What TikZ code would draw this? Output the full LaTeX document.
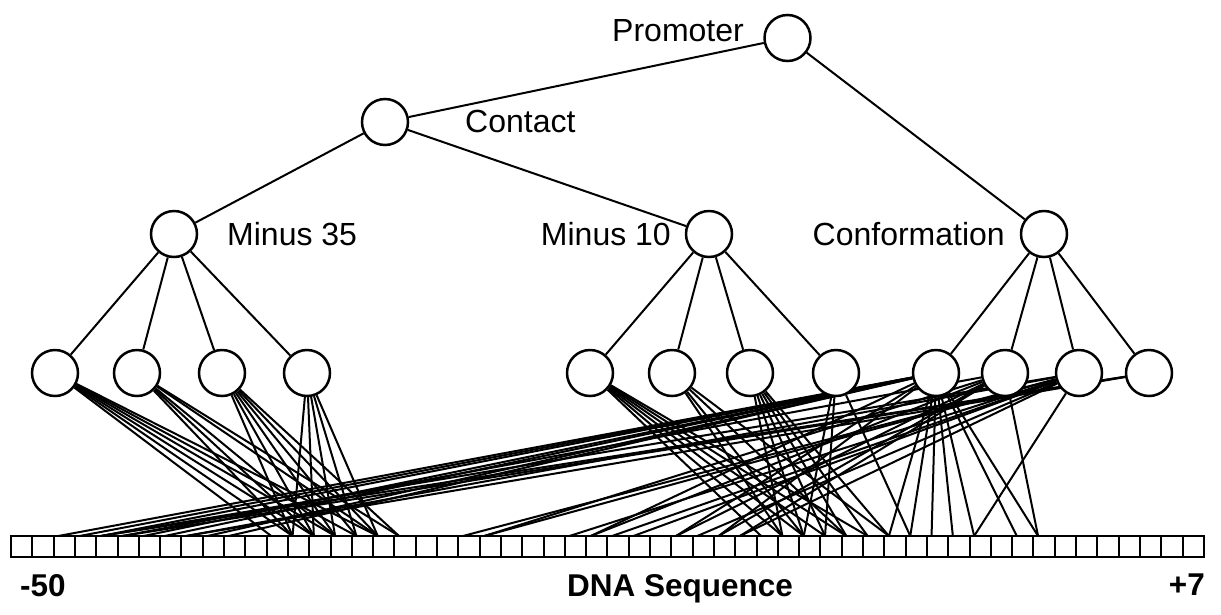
\documentclass[tikz,border=0pt]{standalone}
\usepackage{fontspec}
\setmainfont{Liberation Sans}
\pgfdeclarelayer{back}
\pgfsetlayers{back,main}

\begin{document}
\begin{tikzpicture}[x=1pt,y=-1pt,
        unit/.style={circle,draw,fill=white,line width=2.5pt,
            minimum size=46pt,inner sep=0pt},
        base/.style={draw,line width=2pt,minimum width=21.3pt,
            minimum height=20.5pt,inner sep=0pt,outer sep=0pt},
        wire/.style={line width=2pt},
        lbl/.style={inner sep=0pt,font=\fontsize{32}{38}\selectfont},
        tag/.style={inner sep=0pt,font=\bfseries\fontsize{31.5}{38}\selectfont}]
    \useasboundingbox (0,0) rectangle (1221,614);

    % rule units
    \node[unit] (prom) at (787.5,38) {};
    \node[unit] (cont) at (385,122) {};
    \node[unit] (m35) at (174,234) {};
    \node[unit] (m10) at (709,234) {};
    \node[unit] (conf) at (1044,234) {};

    % one unit per rule
    \foreach \x [count=\i] in {55,137,222,307} \node[unit] (a\i) at (\x,373) {};
    \foreach \x [count=\i] in {590,672,750,836} \node[unit] (b\i) at (\x,373) {};
    \foreach \x [count=\i] in {936,1005,1079,1149} \node[unit] (c\i) at (\x,373) {};

    % DNA strip
    \foreach \k in {1,...,56} \node[base] (d\k) at ({11+21.3*(\k-0.5)},546.25) {};

    \node[lbl,anchor=base east] (tprom) at (744,41) {Promoter};
    \node[lbl,anchor=base west] (tcont) at (465,132) {Contact};
    \node[lbl,anchor=base west] (tm35) at (227,245) {Minus 35};
    \node[lbl,anchor=base east] (tm10) at (671,245) {Minus 10};
    \node[lbl,anchor=base east] (tconf) at (1005,245) {Conformation};

    \node[tag,anchor=base west] (tleft) at (20,596) {-50};
    \node[tag,anchor=base west] (tdna) at (567,596) {DNA Sequence};
    \node[tag,anchor=base east] (tright) at (1205,595) {+7};

    \begin{pgfonlayer}{back}
        \draw[wire] (prom) -- (cont);
        \draw[wire] (prom) -- (conf);
        \draw[wire] (cont) -- (m35);
        \draw[wire] (cont) -- (m10);
        \foreach \i in {1,...,4} {
            \draw[wire] (m35) -- (a\i);
            \draw[wire] (m10) -- (b\i);
            \draw[wire] (conf) -- (c\i);
        }
        % rule antecedents on the sequence
        \foreach \n/\ks in {a1/{13,14,15,16,17,18}, a2/{14,15,16,18,19},
                a3/{14,15,16,17,18,19}, a4/{14,15,16,17,18},
                b1/{36,37,38,39,40,41}, b2/{37,38,40,42},
                b3/{37,38,39,40,41,42}, b4/{38,39,43},
                c1/{3,4,5,7,8,10,11,28,32,34,42,43,44,45,46,48,49},
                c2/{6,23,28,32,34,35,49},
                c3/{5,9,22,23,27,29,30,33,35,46},
                c4/{5,6,9}}
            \foreach \k in \ks \draw[wire] (\n) -- ([xshift=-6pt]d\k.north);
    \end{pgfonlayer}
\end{tikzpicture}
\end{document}
